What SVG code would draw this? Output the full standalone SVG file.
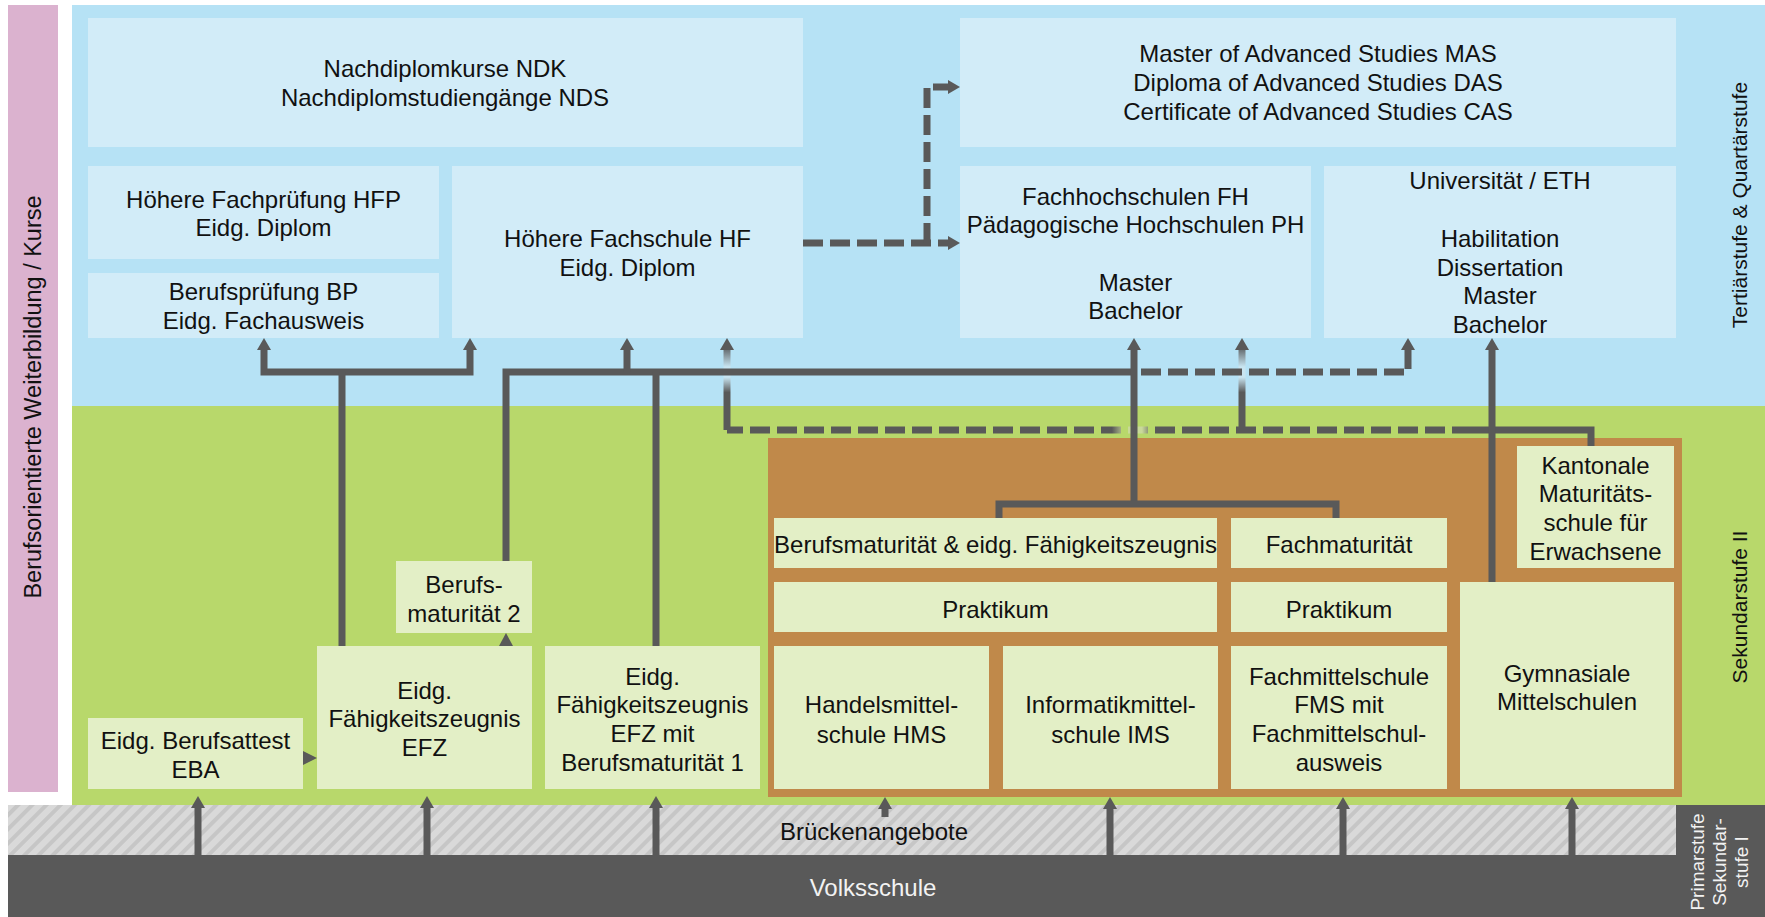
<svg xmlns="http://www.w3.org/2000/svg" width="1765" height="917" viewBox="0 0 1765 917">
<style>
.t{font-family:"Liberation Sans",Arial,sans-serif;font-size:24px;fill:#111;text-anchor:middle}
.w{fill:#f2f2f2}
.bb{fill:#d2ecf8}
.gb{fill:#e3efc6}
.ln{fill:none;stroke:#595959;stroke-width:7}
.ds{stroke-dasharray:20 7}
</style>
<defs>
<marker id="ah" viewBox="0 0 12 14" refX="0" refY="7" markerWidth="12" markerHeight="14" markerUnits="userSpaceOnUse" orient="auto-start-reverse">
<path d="M0,0 L12,7 L0,14 z" fill="#595959"/>
</marker>
<pattern id="hatch" patternUnits="userSpaceOnUse" width="10" height="10" patternTransform="rotate(45)">
<rect width="10" height="10" fill="#d9d9d9"/>
<rect width="4" height="10" fill="#c6c6c6"/>
</pattern>
<linearGradient id="gv" gradientUnits="userSpaceOnUse" x1="0" y1="430" x2="0" y2="350">
<stop offset="0" stop-color="#595959"/>
<stop offset="0.47" stop-color="#595959"/>
<stop offset="0.66" stop-color="#c8e5f1"/>
<stop offset="0.79" stop-color="#c8e5f1"/>
<stop offset="1" stop-color="#6a7276"/>
</linearGradient>
<linearGradient id="gh" gradientUnits="userSpaceOnUse" x1="1100" y1="0" x2="1170" y2="0">
<stop offset="0" stop-color="#595959"/>
<stop offset="0.17" stop-color="#595959"/>
<stop offset="0.37" stop-color="#c9d99a"/>
<stop offset="0.6" stop-color="#c9d99a"/>
<stop offset="0.77" stop-color="#595959"/>
<stop offset="1" stop-color="#595959"/>
</linearGradient>
</defs>

<!-- background bands -->
<rect x="0" y="0" width="1765" height="917" fill="#ffffff"/>
<rect x="72" y="5" width="1693" height="401" fill="#b6e2f5"/>
<rect x="72" y="406" width="1693" height="399" fill="#b8d86b"/>
<rect x="8" y="5" width="50" height="787" fill="#dbb2cf"/>
<rect x="8" y="805" width="1668" height="50" fill="url(#hatch)"/>
<rect x="8" y="855" width="1757" height="62" fill="#595959"/>
<rect x="1676" y="805" width="89" height="112" fill="#595959"/>
<rect x="768" y="438" width="914" height="359" fill="#c0894a"/>

<!-- band labels -->
<text class="t" style="font-size:23.5px" transform="translate(41,397) rotate(-90)">Berufsorientierte Weiterbildung / Kurse</text>
<text class="t" style="font-size:21px" transform="translate(1747,205) rotate(-90)">Tertiärstufe &amp; Quartärstufe</text>
<text class="t" style="font-size:21px" transform="translate(1747,607) rotate(-90)">Sekundarstufe II</text>
<g id="primar">
<text class="t w" style="font-size:19px" transform="translate(1704,862) rotate(-90)">Primarstufe</text>
<text class="t w" style="font-size:19px" transform="translate(1726,862) rotate(-90)">Sekundar-</text>
<text class="t w" style="font-size:19px" transform="translate(1748,862) rotate(-90)">stufe I</text>
</g>
<g id="bruecken"><text class="t" x="874" y="840">Brückenangebote</text></g>
<g id="volksschule"><text class="t w" x="873" y="896">Volksschule</text></g>

<!-- tertiary nodes -->
<g id="ndk"><rect class="bb" x="88" y="18" width="715" height="129"/>
<text class="t" x="445" y="77">Nachdiplomkurse NDK</text>
<text class="t" x="445" y="106">Nachdiplomstudiengänge NDS</text></g>
<g id="mas"><rect class="bb" x="960" y="18" width="716" height="129"/>
<text class="t" x="1318" y="62">Master of Advanced Studies MAS</text>
<text class="t" x="1318" y="91">Diploma of Advanced Studies DAS</text>
<text class="t" x="1318" y="120">Certificate of Advanced Studies CAS</text></g>
<g id="hfp"><rect class="bb" x="88" y="166" width="351" height="93"/>
<text class="t" x="263.5" y="207.5">Höhere Fachprüfung HFP</text>
<text class="t" x="263.5" y="236">Eidg. Diplom</text></g>
<g id="bp"><rect class="bb" x="88" y="273" width="351" height="65"/>
<text class="t" x="263.5" y="300">Berufsprüfung BP</text>
<text class="t" x="263.5" y="329">Eidg. Fachausweis</text></g>
<g id="hf"><rect class="bb" x="452" y="166" width="351" height="172"/>
<text class="t" x="627.5" y="247">Höhere Fachschule HF</text>
<text class="t" x="627.5" y="276">Eidg. Diplom</text></g>
<g id="fh"><rect class="bb" x="960" y="166" width="351" height="172"/>
<text class="t" x="1135.5" y="204.5">Fachhochschulen FH</text>
<text class="t" x="1135.5" y="232.5">Pädagogische Hochschulen PH</text>
<text class="t" x="1135.5" y="291">Master</text>
<text class="t" x="1135.5" y="319">Bachelor</text></g>
<g id="uni"><rect class="bb" x="1324" y="166" width="352" height="172"/>
<text class="t" x="1500" y="189">Universität / ETH</text>
<text class="t" x="1500" y="247">Habilitation</text>
<text class="t" x="1500" y="276">Dissertation</text>
<text class="t" x="1500" y="304">Master</text>
<text class="t" x="1500" y="333">Bachelor</text></g>

<!-- secondary nodes -->
<g id="eba"><rect class="gb" x="88" y="718" width="215" height="71"/>
<text class="t" x="195.5" y="749">Eidg. Berufsattest</text>
<text class="t" x="195.5" y="778">EBA</text></g>
<g id="efz"><rect class="gb" x="317" y="646" width="215" height="143"/>
<text class="t" x="424.5" y="698.5">Eidg.</text>
<text class="t" x="424.5" y="727">Fähigkeitszeugnis</text>
<text class="t" x="424.5" y="756">EFZ</text></g>
<g id="bm2"><rect class="gb" x="396" y="561" width="136" height="72"/>
<text class="t" x="464" y="592.5">Berufs-</text>
<text class="t" x="464" y="621.5">maturität 2</text></g>
<g id="efzbm1"><rect class="gb" x="545" y="646" width="215" height="143"/>
<text class="t" x="652.5" y="685">Eidg.</text>
<text class="t" x="652.5" y="713">Fähigkeitszeugnis</text>
<text class="t" x="652.5" y="741.5">EFZ mit</text>
<text class="t" x="652.5" y="770.5">Berufsmaturität 1</text></g>
<g id="bmefz"><rect class="gb" x="774" y="518" width="443" height="50"/>
<text class="t" x="995.5" y="553">Berufsmaturität &amp; eidg. Fähigkeitszeugnis</text></g>
<g id="praktikum1"><rect class="gb" x="774" y="582" width="443" height="50"/>
<text class="t" x="995.5" y="617.5">Praktikum</text></g>
<g id="hms"><rect class="gb" x="774" y="646" width="215" height="143"/>
<text class="t" x="881.5" y="713">Handelsmittel-</text>
<text class="t" x="881.5" y="742.5">schule HMS</text></g>
<g id="ims"><rect class="gb" x="1003" y="646" width="215" height="143"/>
<text class="t" x="1110.5" y="713">Informatikmittel-</text>
<text class="t" x="1110.5" y="742.5">schule IMS</text></g>
<g id="fm"><rect class="gb" x="1231" y="518" width="216" height="50"/>
<text class="t" x="1339" y="553">Fachmaturität</text></g>
<g id="praktikum2"><rect class="gb" x="1231" y="582" width="216" height="50"/>
<text class="t" x="1339" y="617.5">Praktikum</text></g>
<g id="fms"><rect class="gb" x="1231" y="646" width="216" height="143"/>
<text class="t" x="1339" y="685">Fachmittelschule</text>
<text class="t" x="1339" y="713">FMS mit</text>
<text class="t" x="1339" y="742">Fachmittelschul-</text>
<text class="t" x="1339" y="771">ausweis</text></g>
<g id="gym"><rect class="gb" x="1460" y="582" width="214" height="207"/>
<text class="t" x="1567" y="681.5">Gymnasiale</text>
<text class="t" x="1567" y="710">Mittelschulen</text></g>
<g id="kms"><rect class="gb" x="1517" y="446" width="157" height="122"/>
<text class="t" x="1595.5" y="473.5">Kantonale</text>
<text class="t" x="1595.5" y="501.5">Maturitäts-</text>
<text class="t" x="1595.5" y="531">schule für</text>
<text class="t" x="1595.5" y="560">Erwachsene</text></g>

<!-- connectors -->
<g id="connectors">
<path class="ln" d="M727,430 V350" style="stroke:url(#gv)" marker-end="url(#ah)"/>
<path class="ln" d="M1242,430 V350" style="stroke:url(#gv)" marker-end="url(#ah)"/>
<path class="ln" d="M264,350 V372 H470 V350" marker-start="url(#ah)" marker-end="url(#ah)"/>
<path class="ln" d="M342,646 V372"/>
<path class="ln" d="M506,561 V372 H1134"/>
<path class="ln" d="M627,372 V350" marker-end="url(#ah)"/>
<path class="ln" d="M656,646 V372"/>
<path class="ln" d="M1134,372 V350" marker-end="url(#ah)"/>
<path class="ln ds" d="M1141,372 H1408 V350" marker-end="url(#ah)"/>
<path class="ln ds" d="M803,243 H948" marker-end="url(#ah)"/>
<path class="ln ds" d="M927,243 V87 H948" marker-end="url(#ah)"/>
<path class="ln ds" d="M1472,430 H727" style="stroke:url(#gh)"/>
<path class="ln" d="M1591,446 V430 H1472"/>
<path class="ln" d="M1134,372 V504"/>
<path class="ln" d="M999,518 V504 H1336 V518"/>
<path class="ln" d="M1492,582 V350" marker-end="url(#ah)"/>
<path class="ln" d="M198,855 V808" marker-end="url(#ah)"/>
<path class="ln" d="M427,855 V808" marker-end="url(#ah)"/>
<path class="ln" d="M656,855 V808" marker-end="url(#ah)"/>
<path class="ln" d="M885,817 V809" marker-end="url(#ah)"/>
<path class="ln" d="M1110,855 V809" marker-end="url(#ah)"/>
<path class="ln" d="M1343,855 V809" marker-end="url(#ah)"/>
<path class="ln" d="M1572,855 V809" marker-end="url(#ah)"/>
<polygon points="303,751 317,758 303,765" fill="#595959"/>
<polygon points="499,646 506,633 513,646" fill="#595959"/>
</g>
</svg>
